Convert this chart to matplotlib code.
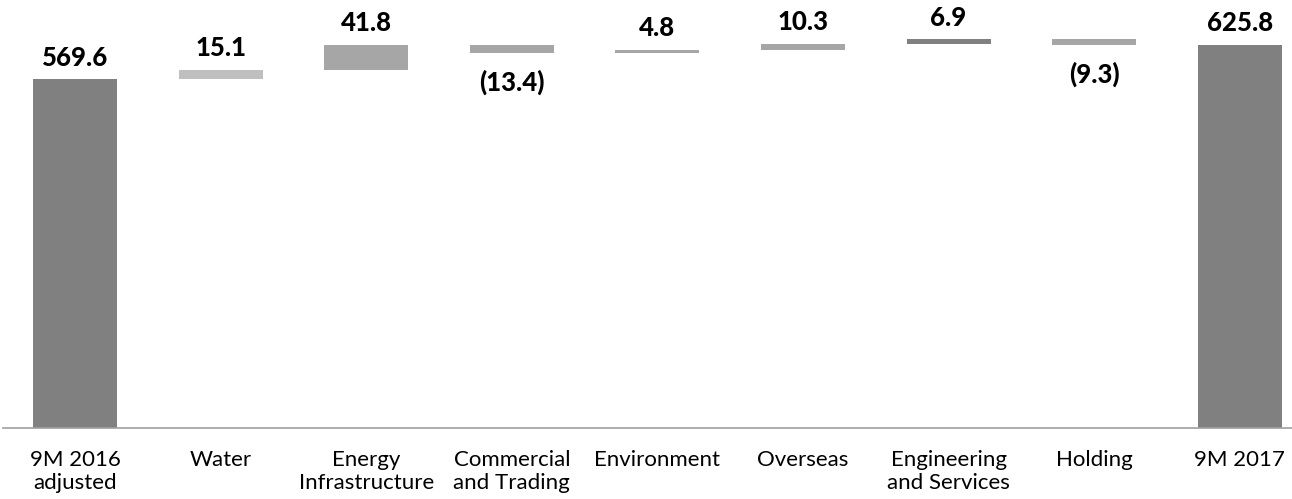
import numpy as np
import matplotlib.pyplot as plt

plt.rcParams['font.family'] = ['Lato', 'DejaVu Sans']

categories = ["9M 2016\nadjusted", "Water", "Energy\nInfrastructure", "Commercial\nand Trading",
              "Environment", "Overseas", "Engineering\nand Services", "Holding", "9M 2017"]
values = [569.6, 15.1, 41.8, -13.4, 4.8, 10.3, 6.9, -9.3, 625.8]
is_total = [True, False, False, False, False, False, False, False, True]
colors = ['#808080', '#bfbfbf', '#a6a6a6', '#a6a6a6', '#a6a6a6', '#a6a6a6', '#808080', '#a6a6a6', '#808080']

# waterfall: each step starts where the running total ended
bottoms = []
running = 0.0
for v, tot in zip(values, is_total):
    if tot:
        bottoms.append(0.0)
        running = v
    else:
        bottoms.append(running)
        running += v

x = np.arange(len(values))

fig = plt.figure(figsize=(12.92, 4.99), dpi=100)
ax = fig.add_axes([0, 71 / 499, 1, 428 / 499])

ax.bar(x, values, bottom=bottoms, width=0.577, color=colors)

for xi, v, b in zip(x, values, bottoms):
    if v >= 0:
        txt = f"{v:.1f}"
        ax.annotate(txt, (xi, b + v), xytext=(0, 7), textcoords='offset points',
                    ha='center', va='bottom', fontsize=18.5, fontweight='black')
    else:
        txt = f"({-v:.1f})"
        ax.annotate(txt, (xi, b + v), xytext=(0, -12), textcoords='offset points',
                    ha='center', va='top', fontsize=18.5, fontweight='black')

ax.set_xlim(-75 / 145.6, (1292 - 75) / 145.6)
ax.set_ylim(0, 428 / 0.612)

ax.set_xticks(x)
ax.set_xticklabels(categories, fontsize=16, linespacing=1.2)
ax.tick_params(axis='x', length=0, pad=16)
ax.set_yticks([])

for s in ['top', 'right', 'left']:
    ax.spines[s].set_visible(False)
ax.spines['bottom'].set_color('#a0a0a0')
ax.spines['bottom'].set_linewidth(1.2)
ax.spines['bottom'].set_bounds(-72 / 145.6, (1292 - 75) / 145.6)

fig.savefig('out.png', dpi=100)
